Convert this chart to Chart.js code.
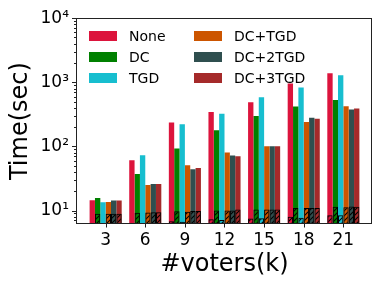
<!DOCTYPE html>
<html>
<head>
<meta charset="utf-8">
<script src="https://cdn.jsdelivr.net/npm/chart.js@4"></script>
<style>
  body { margin: 0; background: #fff; }
  #ChartDiv { position: relative; width: 382px; height: 287px; }
  #legend {
    position: absolute;
    display: grid;
    grid-auto-flow: column;
    grid-template-rows: repeat(3, 21px);
    grid-template-columns: 105px 120px;
    font-family: 'DejaVu Sans';
    font-size: 14px;
    color: #000;
  }
  #legend div { display: flex; align-items: center; white-space: nowrap; }
  #legend span.sw { display: inline-block; width: 28px; height: 10px; margin-right: 12px; }
</style>
</head>
<body>
<div id="ChartDiv">
  <canvas id="chart" width="382" height="287"></canvas>
  <div id="legend"></div>
</div>
<script>
// x categories (thousands of voters)
var voters = [3, 6, 9, 12, 15, 18, 21]
var seriesNames = ['None', 'DC', 'TGD', 'DC+TGD', 'DC+2TGD', 'DC+3TGD']
var seriesColors = ['#dc143c', '#008000', '#17becf', '#cc5500', '#2f4f4f', '#a52a2a']

// total time (sec)
var noneTime = [14.4, 61, 235, 343, 489, 957, 1390]
var dcTime = [15.7, 37, 93, 179, 297, 418, 530]
var tgdTime = [13.4, 73, 221, 324, 585, 832, 1290]
var dcTgdTime = [13.6, 25, 51, 80, 101, 240, 422]
var dc2TgdTime = [14.3, 26, 44, 72, 101, 280, 375]
var dc3TgdTime = [14.3, 26, 46, 70, 101, 271, 389]

// hatched part at the bottom of each bar (sec)
var noneHatch = [6.0, 6.4, 6.8, 7.3, 7.5, 8.0, 8.4]
var dcHatch = [8.9, 9.2, 9.7, 10.0, 10.4, 10.9, 11.4]
var tgdHatch = [6.0, 6.4, 6.7, 7.1, 7.6, 7.7, 8.4]
var dcTgdHatch = [8.9, 9.3, 9.6, 10.0, 10.4, 10.9, 11.2]
var dc2TgdHatch = [8.9, 9.4, 9.8, 10.0, 10.4, 10.9, 11.6]
var dc3TgdHatch = [8.9, 9.4, 9.8, 10.4, 10.4, 10.9, 11.4]

var yTicks = [7, 8, 9, 10, 20, 30, 40, 50, 60, 70, 80, 90, 100, 200, 300, 400, 500, 600, 700, 800, 900,
  1000, 2000, 3000, 4000, 5000, 6000, 7000, 8000, 9000, 10000]
var sup = {10: '10\u00b9', 100: '10\u00b2', 1000: '10\u00b3', 10000: '10\u2074'}

window.onload = function() {
  DrawGraph()
};

function makeHatch() {
  var c = document.createElement('canvas')
  c.width = 5
  c.height = 5
  var g = c.getContext('2d')
  g.strokeStyle = '#000'
  g.lineWidth = 1.1
  g.beginPath()
  g.moveTo(0, 5); g.lineTo(5, 0)
  g.moveTo(-1, 1); g.lineTo(1, -1)
  g.moveTo(4, 6); g.lineTo(6, 4)
  g.stroke()
  return g.createPattern(c, 'repeat')
}

function points(vals) {
  return voters.map(function(v, i) { return {x: v, y: vals[i]} })
}

var frameTicks = {
  id: 'frameTicks',
  afterDraw: function(chart) {
    var ctx = chart.ctx
    var a = chart.chartArea
    ctx.save()
    ctx.strokeStyle = '#222'
    ctx.lineWidth = 1
    ctx.strokeRect(Math.round(a.left) - 0.5, Math.round(a.top) + 0.5,
      Math.round(a.right - a.left), Math.round(a.bottom - a.top) - 1)
    ctx.beginPath()
    var y = chart.scales.y
    y.ticks.forEach(function(t) {
      var p = Math.round(y.getPixelForValue(t.value)) + 0.5
      var len = sup[t.value] ? 4.5 : 2.5
      ctx.moveTo(a.left - 0.5, p)
      ctx.lineTo(a.left - 0.5 - len, p)
    })
    var x = chart.scales.x
    x.ticks.forEach(function(t) {
      var p = Math.round(x.getPixelForValue(t.value)) + 0.5
      ctx.moveTo(p, a.bottom - 0.5)
      ctx.lineTo(p, a.bottom + 3.5)
    })
    ctx.stroke()
    ctx.restore()
  }
}

function DrawGraph(){
  console.log("drawing")
  Chart.defaults.font.family = 'DejaVu Sans'
  Chart.defaults.color = '#000'
  var hatch = makeHatch()
  var totals = [noneTime, dcTime, tgdTime, dcTgdTime, dc2TgdTime, dc3TgdTime]
  var hatches = [noneHatch, dcHatch, tgdHatch, dcTgdHatch, dc2TgdHatch, dc3TgdHatch]
  var datasets = []
  for (let i = 0; i < seriesNames.length; i++) {
    datasets.push({
      label: seriesNames[i],
      data: points(totals[i]),
      backgroundColor: seriesColors[i],
      borderWidth: 0,
      stack: 's' + i,
      order: 2
    })
  }
  for (let i = 0; i < seriesNames.length; i++) {
    datasets.push({
      label: seriesNames[i] + ' hatch',
      data: points(hatches[i]),
      backgroundColor: hatch,
      borderColor: '#000',
      borderWidth: 1,
      borderSkipped: false,
      stack: 's' + i,
      order: 1
    })
  }

  var chart = new Chart(document.getElementById('chart').getContext('2d'), {
    type: 'bar',
    data: { datasets: datasets },
    options: {
      responsive: false,
      animation: false,
      layout: { padding: { top: 17, right: 10, left: 0, bottom: 0 } },
      datasets: { bar: { categoryPercentage: 0.81, barPercentage: 1.0 } },
      plugins: { legend: { display: false }, tooltip: { enabled: false } },
      scales: {
        x: {
          type: 'linear',
          offset: false,
          min: 0.83,
          max: 23.17,
          afterBuildTicks: function(scale) {
            scale.ticks = voters.map(function(v) { return {value: v} })
          },
          afterFit: function(scale) { scale.height = 63 },
          grid: { display: false, drawTicks: false },
          border: { display: false },
          ticks: { font: { size: 17 }, padding: 6, autoSkip: false, maxRotation: 0 },
          title: { display: true, text: '#voters(k)', font: { size: 24 }, padding: { top: 0, bottom: 8 } }
        },
        y: {
          type: 'logarithmic',
          stacked: false,
          min: 6.16,
          max: 10000,
          afterBuildTicks: function(scale) {
            scale.ticks = yTicks.map(function(v) { return {value: v} })
          },
          afterFit: function(scale) { scale.width = 77 },
          grid: { display: false, drawTicks: false },
          border: { display: false },
          ticks: {
            font: { size: 17 },
            padding: 8,
            autoSkip: false,
            callback: function(v) { return sup[v] || '' }
          },
          title: { display: true, text: 'Time(sec)', font: { size: 24 }, padding: { top: 6, bottom: 0 } }
        }
      }
    },
    plugins: [frameTicks]
  })

  var legend = document.getElementById('legend')
  legend.style.left = (chart.chartArea.left + 12) + 'px'
  legend.style.top = (chart.chartArea.top + 7) + 'px'
  for (let i = 0; i < seriesNames.length; i++) {
    var item = document.createElement('div')
    var sw = document.createElement('span')
    sw.className = 'sw'
    sw.style.background = seriesColors[i]
    item.appendChild(sw)
    item.appendChild(document.createTextNode(seriesNames[i]))
    legend.appendChild(item)
  }
}
</script>
</body>
</html>
